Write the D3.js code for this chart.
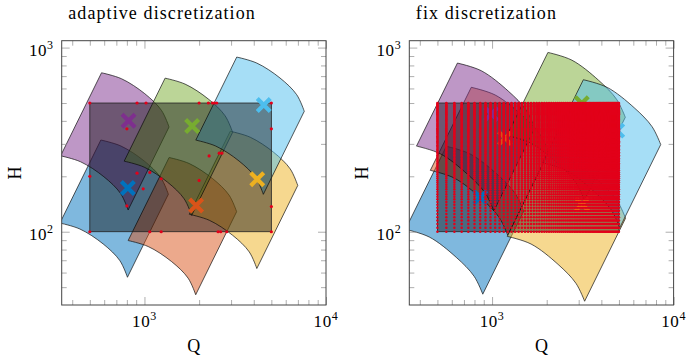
<!DOCTYPE html>
<html>
<head>
<meta charset="utf-8">
<script src="https://cdn.jsdelivr.net/npm/d3@7"></script>
<style>
  body { margin: 0; background: #fff; }
  svg { display: block; font-family: 'Liberation Serif', 'DejaVu Serif', serif; }
</style>
</head>
<body>
<svg id="chart" width="686" height="359"></svg>
<script>
// pump colours, in the order the fields are drawn
const pumpColors = ['#0072BD', '#D95319', '#EDB120', '#7E2F8E', '#77AC30', '#4DBEEE'];

// design point (x marker) of each pump
const adaptiveQ = [810, 1925, 4180, 817, 1830, 4540];
const adaptiveH = [173, 139, 193, 401, 375, 488];
const fixQ = [860, 1180, 3130, 990, 3120, 4890];
const fixH = [154, 322, 141, 436, 498, 354];

// max speed curve of the operating field, relative to the design point
const adaptiveCurveQ = [0.710, 0.915, 1.229, 1.519, 1.672];
const adaptiveCurveH = [1.820, 1.689, 1.401, 1.137, 0.924];
const fixCurveQ = [0.651, 0.881, 1.240, 1.556, 1.737];
const fixCurveH = [1.890, 1.717, 1.332, 1.051, 0.840];
const minSpeed = 0.595; // lowest speed ratio (affinity laws)

// requested operating range
const rangeQ = [500, 5000];
const rangeH = [100, 500];

// points picked by the adaptive discretization
const sampleQ = [500, 910, 1020, 800, 1070, 2000, 2250, 2370, 2430, 2500, 5000, 5000, 2270, 2580, 2670,
    500, 910, 1236, 984, 800, 2000, 5000, 500, 1070, 1236, 2545, 2630, 2840, 5000];
const sampleH = [500, 500, 500, 362, 210, 500, 500, 500, 500, 500, 500, 362, 258, 267, 267,
    200, 208, 194, 171, 138, 190, 137, 100, 100, 100, 100, 100, 100, 100];

// fix discretization grid
const gridQ = [500, 560, 620, 680, 740, 800, 860, 920, 980, 1040, 1100, 1160, 1220, 1280, 1340, 1400,
    1460, 1520, 1580, 1640, 1700, 1760, 1820, 1880, 1940, 2000, 2060, 2120, 2180, 2240, 2300, 2360,
    2420, 2480, 2540, 2600, 2660, 2720, 2780, 2840, 2900, 2960, 3020, 3080, 3140, 3200, 3260, 3320,
    3380, 3440, 3500, 3560, 3620, 3680, 3740, 3800, 3860, 3920, 3980, 4040, 4100, 4160, 4220, 4280,
    4340, 4400, 4460, 4520, 4580, 4640, 4700, 4760, 4820, 4880, 4940, 5000];
const gridH = [100, 105, 110, 115, 120, 125, 130, 135, 140, 145, 150, 155, 160, 165, 170, 175, 180,
    185, 190, 195, 200, 205, 210, 215, 220, 225, 230, 235, 240, 245, 250, 255, 260, 265, 270, 275,
    280, 285, 290, 295, 300, 305, 310, 315, 320, 325, 330, 335, 340, 345, 350, 355, 360, 365, 370,
    375, 380, 385, 390, 395, 400, 405, 410, 415, 420, 425, 430, 435, 440, 445, 450, 455, 460, 465,
    470, 475, 480, 485, 490, 495, 500];

// axes
const xDomain = [350, 10000];
const yDomain = [40, 1090];
const majorX = [1000, 10000];
const minorX = [400, 500, 600, 700, 800, 900, 2000, 3000, 4000, 5000, 6000, 7000, 8000, 9000];
const majorY = [100, 1000];
const minorY = [50, 60, 70, 80, 90, 200, 300, 400, 500, 600, 700, 800, 900];

const svg = d3.select('#chart');
const plotTop = 40.7, plotBottom = 305, plotWidth = 264.3;
const red = '#e2001a';

function drawPanel(p) {
    const x = d3.scaleLog().domain(xDomain).range([p.left, p.left + plotWidth]);
    const y = d3.scaleLog().domain(yDomain).range([plotBottom, plotTop]);
    const g = svg.append('g');

    g.append('clipPath').attr('id', 'clip-' + p.id)
        .append('rect')
        .attr('x', p.left).attr('y', plotTop)
        .attr('width', plotWidth).attr('height', plotBottom - plotTop);
    const plot = g.append('g').attr('clip-path', `url(#clip-${p.id})`);

    // operating fields: max speed curve on top, min speed curve below
    const arc = d3.line().curve(d3.curveCatmullRom);
    p.pumpQ.forEach((q0, i) => {
        const h0 = p.pumpH[i];
        const top = p.curveQ.map((cq, j) => [x(q0 * cq), y(h0 * p.curveH[j])]);
        const bottom = p.curveQ.map((cq, j) => [
            x(q0 * cq * minSpeed),
            y(h0 * p.curveH[j] * minSpeed * minSpeed)
        ]).reverse();
        plot.append('path')
            .attr('d', arc(top) + arc(bottom).replace(/^M/, 'L') + 'Z')
            .attr('fill', pumpColors[i])
            .attr('fill-opacity', 0.5)
            .attr('stroke', '#111')
            .attr('stroke-width', 0.7)
            .attr('stroke-linejoin', 'round');
    });

    // requested range
    plot.append('rect')
        .attr('x', x(rangeQ[0])).attr('y', y(rangeH[1]))
        .attr('width', x(rangeQ[1]) - x(rangeQ[0]))
        .attr('height', y(rangeH[0]) - y(rangeH[1]))
        .attr('fill', '#000').attr('fill-opacity', 0.42)
        .attr('stroke', '#222').attr('stroke-width', 0.8);

    // design points
    p.pumpQ.forEach((q0, i) => {
        const cx = x(q0), cy = y(p.pumpH[i]), s = 6.5;
        plot.append('path')
            .attr('d', `M${cx - s},${cy - s}L${cx + s},${cy + s}M${cx - s},${cy + s}L${cx + s},${cy - s}`)
            .attr('stroke', pumpColors[i])
            .attr('stroke-width', 4.2)
            .attr('fill', 'none');
    });

    // discretization points
    plot.append('g').selectAll('circle')
        .data(p.points)
        .join('circle')
        .attr('cx', d => x(d[0]))
        .attr('cy', d => y(d[1]))
        .attr('r', p.dotRadius)
        .attr('fill', red);

    // ticks inside on all four sides
    const tickSets = [
        [d3.axisBottom, x, `translate(0,${plotBottom})`],
        [d3.axisTop, x, `translate(0,${plotTop})`],
        [d3.axisLeft, y, `translate(${p.left},0)`],
        [d3.axisRight, y, `translate(${p.left + plotWidth},0)`]
    ];
    tickSets.forEach(([axisFn, scale, transform]) => {
        const isX = scale === x;
        [[isX ? minorX : minorY, 5], [isX ? majorX : majorY, 8]].forEach(([vals, len]) => {
            g.append('g')
                .attr('transform', transform)
                .call(axisFn(scale).tickValues(vals).tickSize(-len).tickFormat(''))
                .call(a => a.select('.domain').remove())
                .selectAll('line')
                .attr('stroke', '#999')
                .attr('stroke-width', 0.8);
        });
    });

    // frame
    g.append('rect')
        .attr('x', p.left).attr('y', plotTop)
        .attr('width', plotWidth).attr('height', plotBottom - plotTop)
        .attr('fill', 'none').attr('stroke', '#444').attr('stroke-width', 1);

    // tick labels
    const powerLabel = (sel, exp) => {
        sel.append('tspan').text('10');
        sel.append('tspan').attr('dy', -7).attr('font-size', 12).text(exp);
    };
    majorX.forEach(v => {
        g.append('text')
            .attr('x', x(v)).attr('y', 327)
            .attr('text-anchor', 'middle').attr('font-size', 17)
            .attr('letter-spacing', 0.6)
            .call(powerLabel, Math.round(Math.log10(v)));
    });
    majorY.forEach(v => {
        g.append('text')
            .attr('x', p.left - 8).attr('y', y(v) + 8.5)
            .attr('text-anchor', 'end').attr('font-size', 17)
            .attr('letter-spacing', 0.6)
            .call(powerLabel, Math.round(Math.log10(v)));
    });

    // axis labels and title
    g.append('text')
        .attr('x', p.left + plotWidth / 2).attr('y', 351.5)
        .attr('text-anchor', 'middle').attr('font-size', 18)
        .text('Q');
    g.append('text')
        .attr('transform', `translate(${p.left - 41},173) rotate(-90)`)
        .attr('text-anchor', 'middle').attr('font-size', 18)
        .text('H');
    g.append('text')
        .attr('x', p.left + 6.5).attr('y', 19)
        .attr('font-size', 18)
        .attr('letter-spacing', 1.1)
        .text(p.title);
}

drawPanel({
    id: 'adaptive',
    left: 61.7,
    title: 'adaptive discretization',
    pumpQ: adaptiveQ, pumpH: adaptiveH,
    curveQ: adaptiveCurveQ, curveH: adaptiveCurveH,
    points: sampleQ.map((q, i) => [q, sampleH[i]]),
    dotRadius: 1.6
});

drawPanel({
    id: 'fix',
    left: 409.3,
    title: 'fix discretization',
    pumpQ: fixQ, pumpH: fixH,
    curveQ: fixCurveQ, curveH: fixCurveH,
    points: d3.cross(gridQ, gridH),
    dotRadius: 1.25
});
</script>
</body>
</html>
